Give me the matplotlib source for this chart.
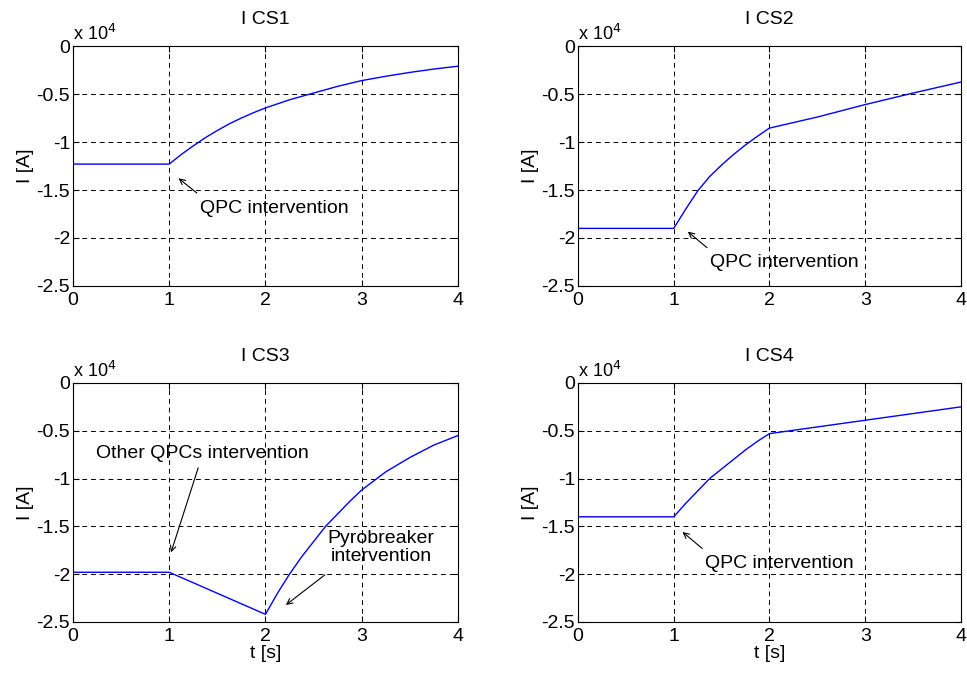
import matplotlib.pyplot as plt

plt.rcParams['font.family'] = ['Liberation Sans', 'DejaVu Sans']

# time points [s] and currents in units of 10^4 A
t_cs1 = [0, 1, 1.125, 1.25, 1.375, 1.5, 1.625, 1.75, 1.875, 2, 2.25, 2.5, 2.75, 3, 3.25, 3.5, 3.75, 4]
i_cs1 = [-1.23, -1.23, -1.13, -1.04, -0.955, -0.88, -0.81, -0.75, -0.695, -0.645,
         -0.56, -0.49, -0.42, -0.36, -0.315, -0.275, -0.24, -0.21]

t_cs2 = [0, 1, 1.125, 1.25, 1.375, 1.5, 1.625, 1.75, 1.875, 2, 2.5, 3, 3.5, 4]
i_cs2 = [-1.9, -1.9, -1.70, -1.51, -1.36, -1.24, -1.13, -1.03, -0.94, -0.855,
         -0.74, -0.61, -0.49, -0.375]

t_cs3 = [0, 1, 1.25, 1.5, 1.75, 2, 2.125, 2.25, 2.375, 2.5, 2.625, 2.75, 2.875, 3,
         3.25, 3.5, 3.75, 4]
i_cs3 = [-1.98, -1.98, -2.09, -2.2, -2.31, -2.42, -2.2, -2.0, -1.82, -1.66, -1.5, -1.37,
         -1.24, -1.12, -0.93, -0.78, -0.65, -0.55]

t_cs4 = [0, 1, 1.125, 1.25, 1.375, 1.5, 1.625, 1.75, 1.875, 2, 2.5, 3, 3.5, 4]
i_cs4 = [-1.4, -1.4, -1.26, -1.13, -1.0, -0.9, -0.8, -0.7, -0.61, -0.53,
         -0.46, -0.39, -0.32, -0.25]

titles = ['I CS1', 'I CS2', 'I CS3', 'I CS4']
yticks = [0, -0.5, -1, -1.5, -2, -2.5]
ytick_labels = ['0', '-0.5', '-1', '-1.5', '-2', '-2.5']
xticks = [0, 1, 2, 3, 4]

fig = plt.figure(figsize=(9.67, 6.74), dpi=100)
positions = [
    [0.0755, 0.5757, 0.398, 0.356],
    [0.5977, 0.5757, 0.396, 0.356],
    [0.0755, 0.0772, 0.398, 0.3546],
    [0.5977, 0.0772, 0.396, 0.3546],
]
series = [(t_cs1, i_cs1), (t_cs2, i_cs2), (t_cs3, i_cs3), (t_cs4, i_cs4)]
axes = []
for k, pos in enumerate(positions):
    ax = fig.add_axes(pos)
    t, i = series[k]
    ax.plot(t, i, color='blue', lw=1)
    ax.set_xlim(0, 4)
    ax.set_ylim(-2.5, 0)
    ax.set_xticks(xticks)
    ax.set_yticks(yticks)
    ax.set_yticklabels(ytick_labels)
    ax.tick_params(direction='in', top=True, right=True, labelsize=14, length=4)
    ax.tick_params(axis='x', pad=4)
    ax.tick_params(axis='y', pad=2)
    ax.grid(True, color='black', linestyle=(0, (5, 4)), lw=0.7)
    for s in ax.spines.values():
        s.set_linewidth(0.8)
    ax.set_title(titles[k], fontsize=14, pad=16)
    ax.set_ylabel('I [A]', fontsize=14, labelpad=2)
    ax.text(0.0, 1.01, r'x 10$^4$', transform=ax.transAxes, fontsize=13, va='bottom', ha='left')
    if k >= 2:
        ax.set_xlabel('t [s]', fontsize=14, labelpad=0)
    axes.append(ax)

arrow = dict(arrowstyle='->', color='black', lw=0.8)
axes[0].annotate('', xy=(1.075, -1.36), xytext=(1.31, -1.55), arrowprops=arrow)
axes[0].text(1.32, -1.69, 'QPC intervention', fontsize=14, va='center', ha='left')

axes[1].annotate('', xy=(1.125, -1.915), xytext=(1.37, -2.12), arrowprops=arrow)
axes[1].text(1.375, -2.26, 'QPC intervention', fontsize=14, va='center', ha='left')

axes[2].annotate('', xy=(1.01, -1.80), xytext=(1.31, -0.86), arrowprops=arrow)
axes[2].text(0.24, -0.74, 'Other QPCs intervention', fontsize=14, va='center', ha='left')
axes[2].annotate('', xy=(2.19, -2.34), xytext=(2.64, -1.99), arrowprops=arrow)
axes[2].text(3.2, -1.72, 'Pyrobreaker\nintervention', fontsize=14, va='center', ha='center',
             linespacing=1.05)

axes[3].annotate('', xy=(1.07, -1.54), xytext=(1.32, -1.75), arrowprops=arrow)
axes[3].text(1.33, -1.89, 'QPC intervention', fontsize=14, va='center', ha='left')

fig.savefig('out.png', dpi=100)
